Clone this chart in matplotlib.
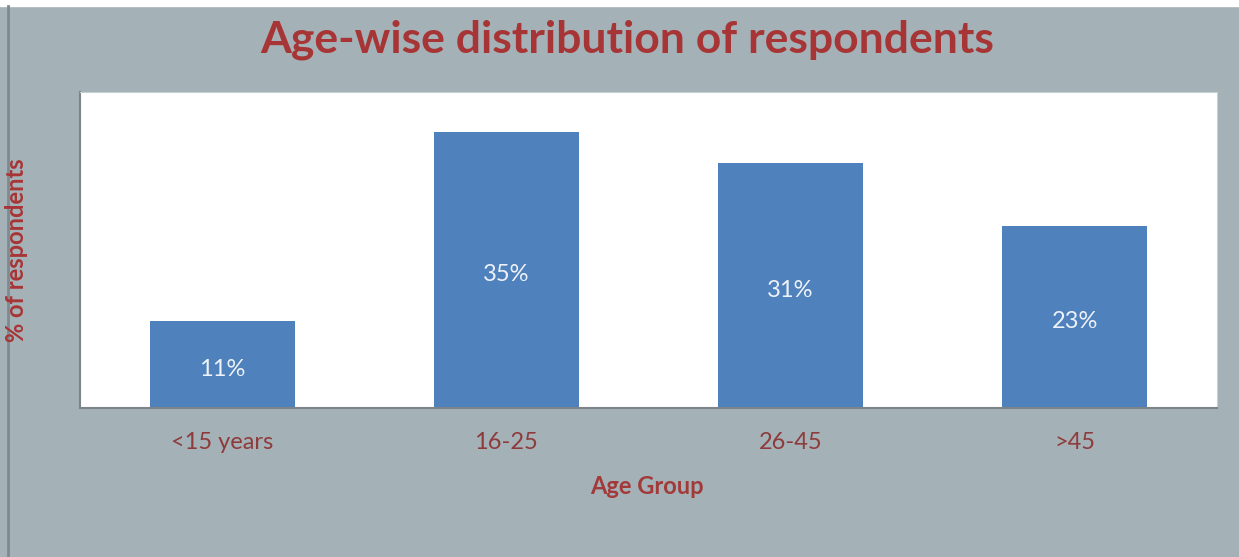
import numpy as np
import matplotlib.pyplot as plt

groups = ['<15 years', '16-25', '26-45', '>45']
share = [11, 35, 31, 23]

plt.rcParams['font.family'] = ['Lato', 'DejaVu Sans']

fig = plt.figure(figsize=(12.39, 5.57), dpi=100, facecolor='#a4b1b7')
ax = fig.add_axes([0.0646, 0.2675, 0.9176, 0.5673])
ax.set_facecolor('white')

x = np.arange(len(groups))
bars = ax.bar(x, share, width=0.51, color='#4f81bd')
for b, v in zip(bars, share):
    ax.text(b.get_x() + b.get_width() / 2, v / 2 - 0.6, f'{v}%', ha='center', va='center',
            color='#eef2f8', fontsize=17)

ax.set_xlim(-0.5, len(groups) - 0.5)
ax.set_ylim(0, 40)
ax.set_yticks([])
ax.set_xticks(x)
ax.set_xticklabels(groups, color='#8e3b3b', fontsize=17)
ax.tick_params(axis='x', length=0, pad=17)
for s in ['top', 'right']:
    ax.spines[s].set_color('#c8d0d4')
for s in ['left', 'bottom']:
    ax.spines[s].set_color('#7c8487')
    ax.spines[s].set_linewidth(1.5)

fig.text(0.506, 0.928, 'Age-wise distribution of respondents', ha='center', va='center',
         color='#a83535', fontsize=32, fontweight='bold')
fig.text(0.522, 0.127, 'Age Group', ha='center', va='center',
         color='#a23a3a', fontsize=17, fontweight='bold')
fig.text(0.013, 0.55, '% of respondents', ha='center', va='center', rotation=90,
         color='#a83535', fontsize=17, fontweight='bold')

# darker frame line on the left and thin white strip on top
fig.add_artist(plt.Line2D([0.0065, 0.0065], [0, 0.99], color='#7f8a90', lw=2))
fig.add_artist(plt.Rectangle((0, 0.99), 1, 0.01, color='white', transform=fig.transFigure))

fig.savefig('out.png', dpi=100, facecolor=fig.get_facecolor())
